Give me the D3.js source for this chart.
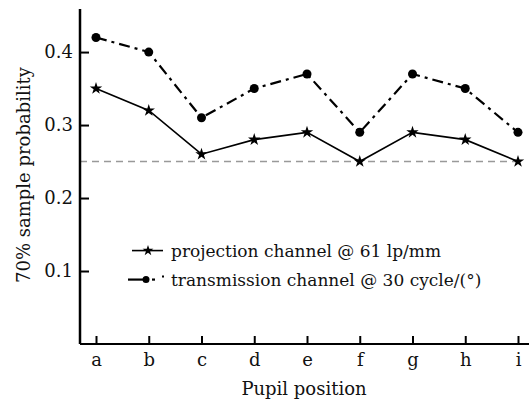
<!DOCTYPE html>
<html>
<head>
<meta charset="utf-8">
<script src="https://cdn.jsdelivr.net/npm/d3@7"></script>
<style>
  body { margin: 0; background: #fff; }
  text { font-family: "DejaVu Serif", "Liberation Serif", serif; fill: #111; }
</style>
</head>
<body>
<svg width="529" height="399"></svg>
<script>
var positions = ["a", "b", "c", "d", "e", "f", "g", "h", "i"];
var projection = [0.35, 0.32, 0.26, 0.28, 0.29, 0.25, 0.29, 0.28, 0.25];
var transmission = [0.42, 0.40, 0.31, 0.35, 0.37, 0.29, 0.37, 0.35, 0.29];
var yTicks = [0.1, 0.2, 0.3, 0.4];
var threshold = 0.25;

var svg = d3.select("svg"),
    margin = {top: 9, right: 0, bottom: 55, left: 80},
    width = +svg.attr("width") - margin.left - margin.right,
    height = +svg.attr("height") - margin.top - margin.bottom,
    g = svg.append("g").attr("transform", "translate(" + margin.left + "," + margin.top + ")");

var x = d3.scalePoint()
    .domain(positions)
    .range([16, 438]);

var y = d3.scaleLinear()
    .domain([0, 0.459])
    .range([height, 0]);

// dashed threshold line
g.append("line")
    .attr("x1", 0)
    .attr("x2", x("i"))
    .attr("y1", y(threshold))
    .attr("y2", y(threshold))
    .attr("stroke", "#999")
    .attr("stroke-width", 1.6)
    .attr("stroke-dasharray", "7,5");

var xAxis = g.append("g")
    .attr("transform", "translate(0," + height + ")")
    .call(d3.axisBottom(x).tickSize(-8).tickPadding(9));
xAxis.select(".domain").attr("d", "M0,0H" + width).attr("stroke-width", 2);

var yAxis = g.append("g")
    .call(d3.axisLeft(y).tickValues(yTicks).tickSize(-9).tickPadding(7).tickFormat(d3.format(".1f")));
yAxis.select(".domain").attr("d", "M0," + height + "V0").attr("stroke-width", 2.5);

g.selectAll(".tick line").attr("stroke-width", 2);
g.selectAll(".tick text").style("font-size", "18px").style("font-family", "DejaVu Serif, serif").attr("fill", "#111");

var line = d3.line()
    .x(function(d, i) { return x(positions[i]); })
    .y(function(d) { return y(d); });

g.append("path")
    .datum(transmission)
    .attr("fill", "none")
    .attr("stroke", "#000")
    .attr("stroke-width", 2.2)
    .attr("stroke-dasharray", "11,5,3,5")
    .attr("d", line);

g.append("path")
    .datum(projection)
    .attr("fill", "none")
    .attr("stroke", "#000")
    .attr("stroke-width", 1.6)
    .attr("d", line);

var star = d3.symbol().type(d3.symbolStar).size(48);

g.selectAll(".dot")
    .data(transmission)
  .enter().append("circle")
    .attr("class", "dot")
    .attr("cx", function(d, i) { return x(positions[i]); })
    .attr("cy", function(d) { return y(d); })
    .attr("r", 4.5)
    .attr("fill", "#000");

g.selectAll(".star")
    .data(projection)
  .enter().append("path")
    .attr("class", "star")
    .attr("transform", function(d, i) { return "translate(" + x(positions[i]) + "," + y(d) + ")"; })
    .attr("d", star)
    .attr("fill", "#000");

// legend
var legend = g.append("g").attr("transform", "translate(52," + (y(0.128)) + ")");
legend.append("line").attr("x1", 0).attr("x2", 31).attr("y1", 0).attr("y2", 0)
    .attr("stroke", "#000").attr("stroke-width", 1.6);
legend.append("path").attr("transform", "translate(16,0)").attr("d", d3.symbol().type(d3.symbolStar).size(36)).attr("fill", "#000");
legend.append("text").attr("x", 39).attr("y", 0).attr("dy", "0.35em")
    .style("font-size", "17px").text("projection channel @ 61 lp/mm");

var l2 = legend.append("g").attr("transform", "translate(0,29)");
l2.append("line").attr("x1", -4).attr("x2", 16).attr("y1", 0).attr("y2", 0)
    .attr("stroke", "#000").attr("stroke-width", 2.2);
l2.append("line").attr("x1", 20).attr("x2", 23).attr("y1", 0).attr("y2", 0)
    .attr("stroke", "#000").attr("stroke-width", 2.2);
l2.append("line").attr("x1", 30).attr("x2", 32).attr("y1", -3).attr("y2", -3)
    .attr("stroke", "#000").attr("stroke-width", 2);
l2.append("circle").attr("cx", 14).attr("cy", 0).attr("r", 3.5).attr("fill", "#000");
l2.append("text").attr("x", 39).attr("y", 0).attr("dy", "0.35em")
    .style("font-size", "17px").text("transmission channel @ 30 cycle/(°)");

// axis titles
svg.append("text")
    .attr("x", 304)
    .attr("y", 395)
    .attr("text-anchor", "middle")
    .style("font-size", "18px")
    .text("Pupil position");

svg.append("text")
    .attr("transform", "translate(30,175) rotate(-90)")
    .attr("text-anchor", "middle")
    .style("font-size", "18px")
    .text("70% sample probability");
</script>
</body>
</html>
